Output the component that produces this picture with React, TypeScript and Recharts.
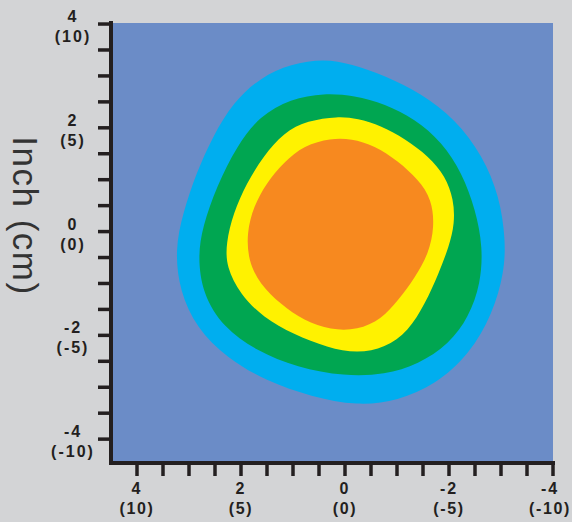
import React from 'react';
import { ScatterChart, Scatter, XAxis, YAxis, CartesianGrid } from 'recharts';

// tick marks every half inch, labels every 2 inches (inch with cm underneath)
const AXIS_TICKS = [-4, -3.5, -3, -2.5, -2, -1.5, -1, -0.5, 0, 0.5, 1, 1.5, 2, 2.5, 3, 3.5, 4];
const LABELLED_TICKS = [4, 2, 0, -2, -4];
const INCH_LABELS = ['4', '2', '0', '-2', '-4'];
const CM_LABELS = ['(10)', '(5)', '(0)', '(-5)', '(-10)'];

// contour outlines (inches)
const outerRing = [
  { x: 0.40, y: 3.33 }, { x: 1.04, y: 3.23 }, { x: 1.63, y: 2.97 }, { x: 2.15, y: 2.49 },
  { x: 2.54, y: 1.84 }, { x: 2.86, y: 1.13 }, { x: 3.12, y: 0.35 }, { x: 3.27, y: -0.36 },
  { x: 3.18, y: -1.14 }, { x: 2.86, y: -1.85 }, { x: 2.28, y: -2.43 }, { x: 1.50, y: -2.89 },
  { x: 0.65, y: -3.18 }, { x: -0.24, y: -3.36 }, { x: -1.02, y: -3.26 }, { x: -1.74, y: -2.95 },
  { x: -2.39, y: -2.37 }, { x: -2.84, y: -1.58 }, { x: -3.06, y: -0.80 }, { x: -3.09, y: -0.16 },
  { x: -2.97, y: 0.68 }, { x: -2.65, y: 1.46 }, { x: -2.12, y: 2.17 }, { x: -1.47, y: 2.66 },
  { x: -0.76, y: 3.01 }, { x: -0.12, y: 3.23 },
];

const greenRing = [
  { x: 0.40, y: 2.67 }, { x: 1.05, y: 2.56 }, { x: 1.64, y: 2.23 }, { x: 2.08, y: 1.65 },
  { x: 2.47, y: 0.87 }, { x: 2.74, y: 0.09 }, { x: 2.83, y: -0.48 }, { x: 2.74, y: -1.20 },
  { x: 2.34, y: -1.85 }, { x: 1.70, y: -2.30 }, { x: 0.92, y: -2.62 }, { x: 0.01, y: -2.79 },
  { x: -0.77, y: -2.76 }, { x: -1.41, y: -2.56 }, { x: -2.00, y: -2.17 }, { x: -2.38, y: -1.65 },
  { x: -2.61, y: -1.00 }, { x: -2.65, y: -0.29 }, { x: -2.51, y: 0.42 }, { x: -2.25, y: 1.13 },
  { x: -1.87, y: 1.72 }, { x: -1.34, y: 2.17 }, { x: -0.77, y: 2.46 }, { x: -0.18, y: 2.62 },
];

const yellowRing = [
  { x: 0.14, y: 2.22 }, { x: 0.72, y: 2.14 }, { x: 1.18, y: 1.91 }, { x: 1.57, y: 1.45 },
  { x: 1.89, y: 0.94 }, { x: 2.15, y: 0.35 }, { x: 2.29, y: -0.23 }, { x: 2.28, y: -0.69 },
  { x: 2.02, y: -1.20 }, { x: 1.57, y: -1.66 }, { x: 0.99, y: -1.98 }, { x: 0.33, y: -2.24 },
  { x: -0.24, y: -2.35 }, { x: -0.77, y: -2.24 }, { x: -1.22, y: -1.92 }, { x: -1.54, y: -1.39 },
  { x: -1.80, y: -0.81 }, { x: -2.00, y: -0.29 }, { x: -2.11, y: 0.16 }, { x: -2.09, y: 0.62 },
  { x: -1.93, y: 1.07 }, { x: -1.61, y: 1.45 }, { x: -1.15, y: 1.79 }, { x: -0.70, y: 2.04 },
  { x: -0.24, y: 2.18 },
];

const orangeCore = [
  { x: 0.27, y: 1.80 }, { x: 0.79, y: 1.66 }, { x: 1.18, y: 1.33 }, { x: 1.51, y: 0.94 },
  { x: 1.76, y: 0.48 }, { x: 1.89, y: -0.03 }, { x: 1.86, y: -0.56 }, { x: 1.64, y: -1.01 },
  { x: 1.24, y: -1.40 }, { x: 0.79, y: -1.72 }, { x: 0.27, y: -1.90 }, { x: -0.24, y: -1.90 },
  { x: -0.70, y: -1.69 }, { x: -1.02, y: -1.33 }, { x: -1.35, y: -0.88 }, { x: -1.61, y: -0.42 },
  { x: -1.72, y: 0.09 }, { x: -1.67, y: 0.62 }, { x: -1.41, y: 1.00 }, { x: -1.02, y: 1.36 },
  { x: -0.57, y: 1.66 }, { x: -0.12, y: 1.79 },
];

const INK = '#231f20';
const labelFont = '"Liberation Sans", Arial, Helvetica, sans-serif';

const tickText = (value: number) => {
  const i = LABELLED_TICKS.indexOf(value);
  return i < 0 ? null : [INCH_LABELS[i], CM_LABELS[i]];
};

const YTick = ({ x, y, payload }: any) => {
  const lines = tickText(payload.value);
  if (!lines) return null;
  return (
    <g fontFamily={labelFont} fontWeight={700} fontSize={16} fill={INK} textAnchor="middle">
      <text x={x - 23} y={y - 2} style={{ letterSpacing: 2 }}>{lines[0]}</text>
      <text x={x - 23} y={y + 18} style={{ letterSpacing: 2 }}>{lines[1]}</text>
    </g>
  );
};

const XTick = ({ x, y, payload }: any) => {
  const lines = tickText(payload.value);
  if (!lines) return null;
  // the last label sits at the very edge of the page, nudge it in a touch
  const cx = payload.value === -4 ? x - 3 : x;
  return (
    <g fontFamily={labelFont} fontWeight={700} fontSize={16} fill={INK} textAnchor="middle">
      <text x={cx} y={y + 15.5} style={{ letterSpacing: 2 }}>{lines[0]}</text>
      <text x={cx} y={y + 35.5} style={{ letterSpacing: 1.6 }}>{lines[1]}</text>
    </g>
  );
};

const AxisTitle = ({ viewBox }: any) => {
  const cx = viewBox.x + 25;
  const cy = viewBox.y + 193;
  return (
    <text
      x={cx}
      y={cy}
      transform={`rotate(90 ${cx} ${cy})`}
      textAnchor="middle"
      dominantBaseline="central"
      fontFamily={labelFont}
      fontSize={35}
      fill="#333"
      style={{ letterSpacing: 1.5 }}
    >
      Inch (cm)
    </text>
  );
};

const noDot = () => <g />;

const rings = [
  { data: outerRing, color: '#00aeef' },
  { data: greenRing, color: '#00a651' },
  { data: yellowRing, color: '#fff200' },
  { data: orangeCore, color: '#f7891f' },
];

export default function App() {
  return (
    <div style={{ position: 'absolute', left: 0, top: 0, width: 572, height: 522, background: '#d3d4d6' }}>
      <ScatterChart width={572} height={522} margin={{ top: 23, right: 19, bottom: 0, left: 0 }}>
        <CartesianGrid horizontal={false} vertical={false} fill="#6b8cc7" fillOpacity={1} stroke="none" />
        <XAxis
          type="number"
          dataKey="x"
          domain={[-4, 4.5]}
          reversed
          ticks={AXIS_TICKS}
          interval={0}
          height={59}
          tickSize={13}
          axisLine={{ stroke: INK, strokeWidth: 4, strokeLinecap: 'square' }}
          tickLine={{ stroke: INK, strokeWidth: 3.5 }}
          tick={<XTick />}
        />
        <YAxis
          type="number"
          dataKey="y"
          domain={[-4.46, 4.02]}
          ticks={AXIS_TICKS}
          interval={0}
          width={111}
          tickSize={13}
          axisLine={{ stroke: INK, strokeWidth: 4, strokeLinecap: 'square' }}
          tickLine={{ stroke: INK, strokeWidth: 3.5 }}
          tick={<YTick />}
          label={{ content: <AxisTitle /> }}
        />
        {rings.map((r, i) => (
          <Scatter
            key={i}
            data={r.data}
            fill={r.color}
            line={{ fill: r.color, stroke: 'none' }}
            lineType="joint"
            lineJointType="basisClosed"
            shape={noDot}
            isAnimationActive={false}
          />
        ))}
      </ScatterChart>
    </div>
  );
}
